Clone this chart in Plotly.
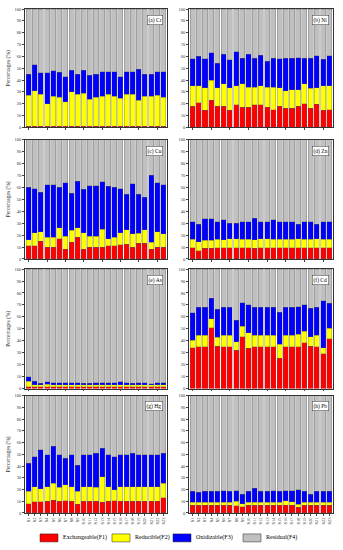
import plotly.graph_objects as go

samples = ["S%d" % i for i in range(1, 24)]

# cumulative tops: F1 top, F2 top, F3 top (F4 fills to 100)
cr_f1 = [1]*23
cr_f2top = [27,31,28,20,26.5,25.5,21.5,30,28,29,24,25.5,26.5,28,26.5,24.5,28,28,23,26.5,26.5,27,25.5]
cr_f3top = [45,53,46,46,48,46.5,43,48.5,45,48.5,44,45,47,47,47,43,47,47,49,45,45,47,47]

ni_f1 = [18,21,14.7,23,18,18,14.7,19,17,17,19,19,17,15,18,16,16,18,20,16,19.5,14.7,15]
ni_f2top = [35,35,33.5,40,33.5,37,33.5,35,37,34,34,35,34,34,33.5,31,32,32,37,33,33.5,35,35]
ni_f3top = [58,60,58,63,54,62,57,64,58.5,62,58.5,61,56,58.5,58,58.5,58.5,59,58.5,58.5,60.5,57.5,60.5]

cu_f1 = [11,11,15,10,10,17,8,14,18,8,10,10,10,11,11,12,12.5,10,13,13,8,10,10]
cu_f2top = [16,22,23,18,18,26,19,24,26,22,19,19,25,17,18,22,24.5,21,21.5,24.5,14,23,21]
cu_f3top = [60,59,56,62,62,60,64,55,65,58.5,61.5,61.5,64.5,61,60,59,54,63,54,51.5,70,64,62]

zn_f1 = [9.5,7,9,9,9.5,9.5,9.5,9.5,9.5,9.5,9,9.5,9.5,9.5,9.5,9.5,9.5,9.5,9.5,9.5,9.5,9.5,9.5]
zn_f2top = [16.5,14.5,15.5,15.5,16.5,16,17,17,16.5,16.5,16,17,17,16.5,16.5,16.5,16.5,17,16.5,16.5,17,16.5,16.5]
zn_f3top = [31,29,33.5,33.5,31,33,30,30,31,31,34,31,31,33,31,31,31,29,31,31,29,31,31]

as_f1 = [1.5]*23
as_f2top = [6,3,3,3.5,3,3,3,3,3,3,3,3,3,3,3,3,3,3,3,3,3,3,3]
as_f3top = [10,6,4.5,5.5,5,5,5,5,5,4.5,4.5,5,5,5,5,5.5,5,4.5,5,5,4,5,5]

cd_f1 = [34,35,35,51,35.5,35,35,32,43.5,33.5,35,35,35,35,25.5,35,35,35,38.5,35.5,35,29,41.5]
cd_f2top = [40.5,44.5,44.5,58.5,43,44.5,44.5,39,52,46.5,44.5,44.5,44.5,44.5,37,44.5,44.5,45.5,48,43.5,44.5,34,50.5]
cd_f3top = [63.5,68,68,75.5,66.5,68,68,57,72,70,68,68,68,68,64,68,68,68.5,70,67,68,73.5,71.5]

hg_f1 = [8,9.5,9.5,10,11,10,10.5,10,7.5,10,10,10,9,10,10.5,10,10,10,10,10,10,10,13]
hg_f2top = [18.5,22.5,20.5,22.5,25.5,22,24,22.5,18.5,22.5,22.5,22,31,22.5,20,22.5,22.5,22.5,22.5,22.5,22.5,22.5,25.5]
hg_f3top = [42.5,48,54,49.5,57,49.5,46.5,49.5,40.5,49.5,49.5,51,55,49.5,48,49.5,49.5,51,49.5,49.5,49.5,49.5,51]

pb_f1 = [6.5,6.5,6.5,6.5,6.5,6.5,6.5,6,5.5,6.5,6.5,6.5,6.5,6.5,6.5,6.5,6.5,5,6.5,6.5,6.5,6.5,6.5]
pb_f2top = [9,9,9,9,9,9,9,10,8,9,9,9,9,9,9,10.5,9.5,7.5,9,9,9,9,9]
pb_f3top = [18.5,17.5,18.5,18.5,18.5,19,18.5,19,16,18.5,21,18.5,18.5,19,18.5,19,19,20,18.5,16,18.5,18.5,18.5]

panels = [
    ("(a) Cr", cr_f1, cr_f2top, cr_f3top),
    ("(b) Ni", ni_f1, ni_f2top, ni_f3top),
    ("(c) Cu", cu_f1, cu_f2top, cu_f3top),
    ("(d) Zn", zn_f1, zn_f2top, zn_f3top),
    ("(e) As", as_f1, as_f2top, as_f3top),
    ("(f) Cd", cd_f1, cd_f2top, cd_f3top),
    ("(g) Hg", hg_f1, hg_f2top, hg_f3top),
    ("(h) Pb", pb_f1, pb_f2top, pb_f3top),
]

names = ["Exchangeable(F1)", "Reducible(F2)", "Oxidizable(F3)", "Residual(F4)"]
colors = ["#ff0000", "#ffff00", "#0000ff", "#c0c0c0"]

fig = go.Figure()

W, H = 343, 550
ML, MR, MT, MB = 25, 10, 7, 37
PW, PH = W - ML - MR, H - MT - MB

def px_x(p):
    return (p - ML) / PW

def px_y(p):
    return (H - MB - p) / PH

xdoms = [(0.0, 0.461), (0.532, 1.0)]
ydoms = [(0.765, 1.0), (0.504, 0.741), (0.247, 0.484), (0.0, 0.233)]
FONT = "Liberation Serif"

for k, (label, f1, f2t, f3t) in enumerate(panels):
    r, c = divmod(k, 2)
    idx = k + 1
    xa = "x" if idx == 1 else "x%d" % idx
    ya = "y" if idx == 1 else "y%d" % idx
    f2 = [b - a for a, b in zip(f1, f2t)]
    f3 = [b - a for a, b in zip(f2t, f3t)]
    f4 = [100 - b for b in f3t]
    for j, vals in enumerate([f1, f2, f3, f4]):
        fig.add_trace(go.Bar(
            x=samples, y=vals, name=names[j], marker_color=colors[j],
            marker_line=dict(color="#555555", width=0.3),
            showlegend=False, xaxis=xa, yaxis=ya,
        ))
    xkey = "xaxis" if idx == 1 else "xaxis%d" % idx
    ykey = "yaxis" if idx == 1 else "yaxis%d" % idx
    fig.layout[xkey] = dict(
        domain=xdoms[c], anchor=ya, showline=True, linecolor="#333", linewidth=0.6,
        mirror=True, ticks="outside", ticklen=2, tickwidth=0.5,
        showticklabels=(r == 3), tickangle=-90,
        tickfont=dict(size=4.5, family=FONT, color="#333"),
        range=[-0.6, 22.6], showgrid=False,
    )
    fig.layout[ykey] = dict(
        domain=ydoms[r], anchor=xa, range=[0, 100], dtick=10,
        showline=True, linecolor="#333", linewidth=0.6, mirror=True,
        ticks="outside", ticklen=2, tickwidth=0.5, showgrid=False, zeroline=False,
        tickfont=dict(size=4.5, family=FONT, color="#333"),
        title=dict(text="Percentages (%)" if c == 0 else "",
                   font=dict(size=5.5, family=FONT, color="#333"), standoff=3),
    )
    fig.add_annotation(
        text=label, xref="%s domain" % xa, yref="%s domain" % ya,
        x=0.97, y=0.95, xanchor="right", yanchor="top", showarrow=False,
        font=dict(size=5.5, family=FONT, color="#000"),
        bgcolor="white", bordercolor="#333", borderwidth=0.5, borderpad=1,
    )

# legend row (swatch + label), built from names/colors
box_left = [40, 112, 173, 243]
for j in range(4):
    x0 = box_left[j]
    fig.add_shape(type="rect", xref="paper", yref="paper",
                  x0=px_x(x0), x1=px_x(x0 + 18), y0=px_y(542), y1=px_y(534),
                  fillcolor=colors[j], line=dict(color="#222", width=0.5))
    fig.add_annotation(text=names[j], xref="paper", yref="paper",
                       x=px_x(x0 + 20.5), y=px_y(538), xanchor="left", yanchor="middle",
                       showarrow=False, font=dict(size=6, family=FONT, color="#000"))

fig.update_layout(
    barmode="stack", bargap=0.18,
    width=W, height=H,
    margin=dict(l=ML, r=MR, t=MT, b=MB),
    paper_bgcolor="white", plot_bgcolor="white",
    font=dict(family=FONT),
    hovermode=False,
)

fig.write_html("out.html", config={"displayModeBar": False},
               post_script="document.body.style.margin='0';document.body.style.padding='0';")
